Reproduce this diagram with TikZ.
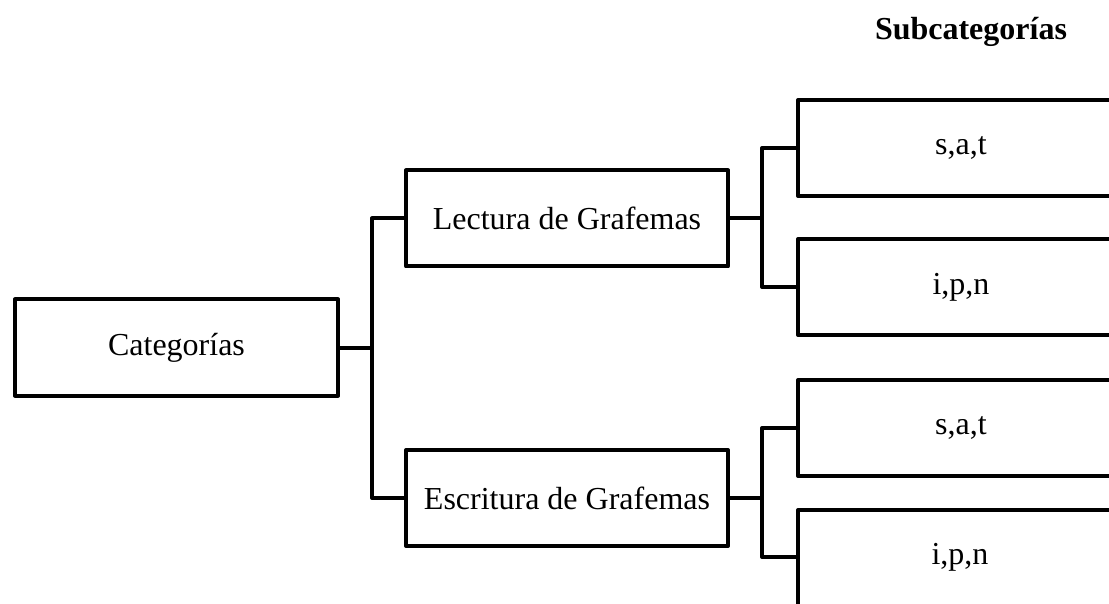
\documentclass[tikz,border=0pt]{standalone}
\usepackage{fontspec}
\setmainfont{Liberation Serif}
\begin{document}
\begin{tikzpicture}[x=1pt,y=-1pt,
  box/.style={draw, line width=4pt, line join=round, minimum width=322pt, minimum height=96pt, inner sep=0pt, font=\fontsize{32}{38}\selectfont},
  subbox/.style={box, minimum width=326pt, anchor=west},
  conn/.style={line width=4pt, line join=round}]
\useasboundingbox (0,0) rectangle (1109,604);
\clip (0,0) rectangle (1109,604);
\node[anchor=base, font=\bfseries\fontsize{32}{38}\selectfont] (title) at (971,40) {Subcategorías};
\node[box, minimum width=323pt] (cat) at (176.5,347.5) {Categorías};
\node[box] (lec) at (567,218.5) {Lectura de Grafemas};
\node[box] (esc) at (567,498) {Escritura de Grafemas};
\node[subbox] (s1) at (796,148) {s,a,t};
\node[subbox] (s2) at (796,287) {i,p,n};
\node[subbox] (s3) at (796,428) {s,a,t};
\node[subbox, draw=none, outer sep=0pt, minimum width=324pt, minimum height=94pt] (s4) at (798,557) {i,p,n};
\draw[conn] (s4.south west) -- (s4.north west) -- (s4.north east);
\coordinate (t0) at (372,347.5);
\coordinate (t1) at (762,218.5);
\coordinate (t2) at (762,498);
\draw[conn] (cat.east) -- (t0);
\draw[conn] (lec.west) -| (t0) |- (esc.west);
\draw[conn] (lec.east) -- (t1);
\draw[conn] (s1.west) -| (t1) |- (s2.west);
\draw[conn] (esc.east) -- (t2);
\draw[conn] (s3.west) -| (t2) |- (s4.west);
\end{tikzpicture}
\end{document}
